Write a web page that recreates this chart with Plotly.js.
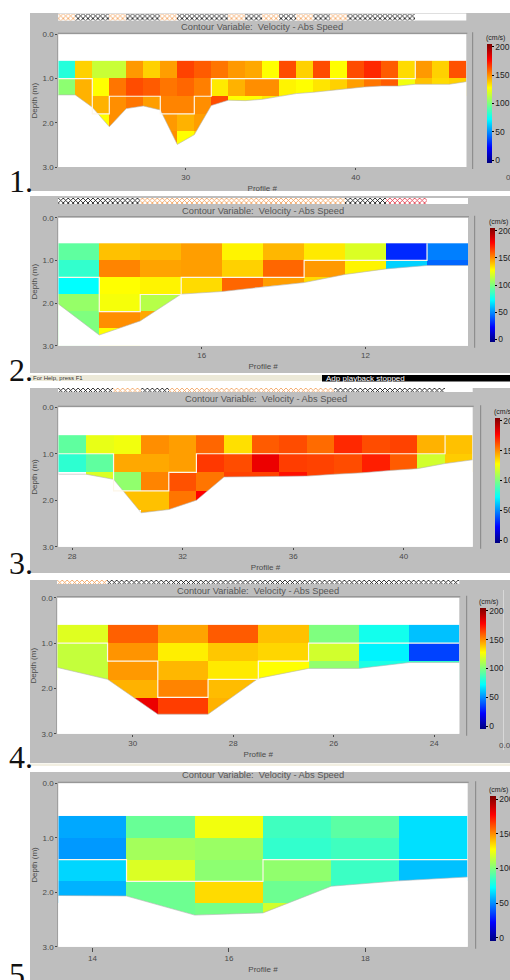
<!DOCTYPE html>
<html><head><meta charset="utf-8">
<script src="https://cdn.plot.ly/plotly-3.0.1.min.js"></script>
<style>html,body{margin:0;padding:0;background:#fff}#chart{width:510px;height:980px}</style>
</head><body><div id="chart"></div>
<script>
// ---------- data ----------
const depthEdges = [0.6, 1.0, 1.4, 1.8, 2.2, 2.6];
const depthEdges2 = [0.6, 1.0, 1.4, 1.8, 2.2, 2.6, 3.0];
const speedTicks = [0, 50, 100, 150, 200];
const depthTicks = [0, 1, 2, 3];

const profiles1 = [23,24,25,26,27,28,29,30,31,32,33,34,35,36,37,38,39,40,41,42,43,44,45,46];
const speed1 = [
 [80,137,116,116,148,137,147,165,160,155,148,145,128,163,137,163,128,163,170,160,135,148,137,162],
 [103,143,128,155,163,160,155,158,153,132,143,150,150,130,128,133,137,147,155,160,125,140,135,137],
 [null,143,143,150,155,147,152,152,150,163,128,128,132,null,null,null,null,null,null,null,null,null,null,null],
 [null,null,128,150,null,null,148,143,147,null,null,null,null,null,null,null,null,null,null,null,null,null,null,null],
 [null,null,null,null,null,null,150,128,135,null,null,null,null,null,null,null,null,null,null,null,null,null,null,null]];
const bed1 = [1.37,1.37,1.65,2.09,1.68,1.62,1.71,2.49,2.27,1.61,1.49,1.5,1.47,1.40,1.34,1.31,1.27,1.22,1.19,1.17,1.17,1.13,1.13,1.13,1.07];
const lineX1 = [22.5,24.5,24.5,25.5,25.5,28.5,28.5,30.5,30.5,31.5,31.5,43.5,43.5];
const lineY1 = [1,1,1.8,1.8,1.4,1.4,1.8,1.8,1.4,1.4,1,1,0.6];
const strip1 = ['o','b','b','o','b','b','o','b','b','b','o','b','o','b','o','b','o','b','b','b','b','','',''];

const profiles2 = [19,18,17,16,15,14,13,12,11,10];
const speed2 = [
 [93,140,142,147,130,142,132,120,30,47],
 [83,152,146,147,137,158,148,130,63,42],
 [72,128,130,135,158,147,135,null,null,null],
 [105,126,112,null,null,null,null,null,null,null],
 [100,150,145,null,null,null,null,null,null,null],
 [100,128,null,null,null,null,null,null,null,null]];
const bed2 = [2.02,2.75,2.42,1.79,1.73,1.62,1.52,1.33,1.2,1.12,1.12];
const lineX2 = [19.5,18.5,18.5,17.5,17.5,16.5,16.5,13.5,13.5,10.5,10.5];
const lineY2 = [1.4,1.4,2.2,2.2,1.8,1.8,1.4,1.4,1,1,0.6];
const strip2 = ['b','b','o','o','o','o','o','b','r',''];

const profiles3 = [28,29,30,31,32,33,34,35,36,37,38,39,40,41,42];
const speed3 = [
 [93,123,125,150,147,158,134,160,163,157,170,163,165,143,140],
 [82,93,145,145,147,167,163,182,166,165,163,172,160,118,138],
 [null,120,104,152,162,155,165,165,175,165,162,162,null,null,null],
 [null,null,140,140,155,178,null,null,null,null,null,null,null,null,null],
 [null,null,null,143,null,null,null,null,null,null,null,null,null,null,null]];
const bed3 = [1.44,1.44,1.55,2.27,2.2,2.0,1.5,1.49,1.48,1.48,1.44,1.41,1.36,1.32,1.21,1.13];
const lineX3 = [27.5,29.5,29.5,31.5,31.5,32.5,32.5,41.5,41.5];
const lineY3 = [1,1,1.8,1.8,1.4,1.4,1,1,0.6];
const strip3 = ['b','b','o','b','o','o','o','o','o','o','b','b','b','b',''];

const profiles4 = [31,30,29,28,27,26,25,24];
const speed4 = [
 [121,159,146,160,140,100,76,60],
 [115,149,131,139,136,118,70,35],
 [115,148,142,132,128,104,78,85],
 [null,143,152,141,null,null,null,null],
 [null,182,166,143,null,null,null,null]];
const bed4 = [1.54,1.8,2.57,2.57,1.78,1.56,1.56,1.43,1.43];
const lineX4 = [31.5,30.5,30.5,29.5,29.5,28.5,28.5,27.5,27.5,26.5,26.5,23.5];
const lineY4 = [1,1,1.4,1.4,2.2,2.2,1.8,1.8,1.4,1.4,1,1];
const strip4 = ['o','b','b','b','b','b','b','b'];

const profiles5 = [14,15,16,17,18,19];
const speed5 = [
 [55,95,125,86,92,66],
 [52,108,106,83,86,66],
 [64,120,103,104,85,60],
 [57,96,135,96,85,null],
 [null,96,98,118,null,null]];
const bed5 = [2.06,2.07,2.42,2.38,1.89,1.79,1.72];
const lineX5 = [13.5,14.5,14.5,16.5,16.5,19.5];
const lineY5 = [1.4,1.4,1.8,1.8,1.4,1.4];

const chartTitle = 'Contour Variable:  Velocity - Abs Speed';
const depthTitle = 'Depth (m)';
const profileTitle = 'Profile #';
const unitTitle = '(cm/s)';
const panelNumbers = ['1.','2.','3.','4.','5.'];
const profileTicks = [[30,40],[16,12],[28,32,36,40],[30,28,26,24],[14,16,18]];
const statusLeft = 'For Help, press F1';
const statusRight = 'Adp playback stopped';

// ---------- layout geometry (pixels) ----------
const W = 510, H = 980;
const geo = [
 {l:58.3,r:466.3,t:34.3,b:167,  grayT:13, grayB:191, st:13.5,sb:20.5,cl:487,ct:44, cb:163,cw:5,ttl:27, ttx:262,num:162,frame:472,tl:2,uy:38},
 {l:58.3,r:468,  t:217.7,b:345.7,grayT:196,grayB:373,st:198,sb:204,cl:490,ct:228,cb:342,cw:5,ttl:211,ttx:263,num:351,frame:474,tl:2,uy:222},
 {l:58.3,r:472.7,t:407.3,b:546.7,grayT:388,grayB:573,st:388,sb:392,cl:495,ct:418,cb:543,cw:5,ttl:399,ttx:266,num:544,frame:480,tl:2,uy:412},
 {l:57.3,r:459.3,t:597.7,b:733.7,grayT:580,grayB:763,st:580,sb:584,cl:480,ct:608,cb:729,cw:6,ttl:591,ttx:258,num:738,frame:466,tl:2,uy:602},
 {l:58.3,r:467.7,t:783.3,b:946.7,grayT:772,grayB:980,st:0,sb:0,cl:490,ct:796,cb:941,cw:6,ttl:775,ttx:263,num:955,frame:475,tl:4,uy:790}];

const speeds=[speed1,speed2,speed3,speed4,speed5];
const profs=[profiles1,profiles2,profiles3,profiles4,profiles5];
const beds=[bed1,bed2,bed3,bed4,bed5];
const lineXs=[lineX1,lineX2,lineX3,lineX4,lineX5];
const lineYs=[lineY1,lineY2,lineY3,lineY4,lineY5];
const strips=[strip1,strip2,strip3,strip4,null];

const scale=[[0,'#00007f'],[0.129,'#0000ff'],[0.367,'#00ffff'],[0.5,'#7fff7f'],[0.633,'#ffff00'],[0.871,'#ff0000'],[1,'#7f0000']];
const axisColor='#4a4a4a', FONT='"Liberation Sans", Arial, sans-serif';
const hatch={o:'#f09a50',b:'#000000',r:'#e03040','':'#ffffff'};

const px=(v)=>v/W, py=(v)=>1-v/H;
const traces=[];
const layout={width:W,height:H,margin:{l:0,r:0,t:0,b:0,autoexpand:false},paper_bgcolor:'#fff',plot_bgcolor:'#fff',
  showlegend:false,bargap:0,shapes:[],annotations:[],font:{family:FONT,size:8,color:axisColor}};
const rect=(x0,y0,x1,y1,fill)=>({type:'rect',xref:'paper',yref:'paper',x0:px(x0),x1:px(x1),y0:py(y0),y1:py(y1),fillcolor:fill,line:{width:0},layer:'below'});
const note=(x,y,text,o={})=>Object.assign({xref:'paper',yref:'paper',x:px(x),y:py(y),text,showarrow:false,xanchor:'center',yanchor:'middle',font:{family:FONT,size:9.3,color:'#555'},borderpad:0},o);

geo.forEach((g,i)=>{
  const n=i+1, sfx=n===1?'':n;
  const xa='x'+sfx, ya='y'+sfx, ca='coloraxis'+sfx;
  const p=profs[i], step=p[1]-p[0];
  const edges=p.map(v=>v-step/2).concat([p[p.length-1]+step/2]);
  const yEdges=speeds[i].length===6?depthEdges2:depthEdges;
  // panel chrome
  layout.shapes.push(rect(30,g.grayT,W,g.grayB,'#bebebe'));
  layout.shapes.push(rect(g.l,g.t,g.r,g.b,'#ffffff'));
  layout.shapes.push(rect(g.l-0.5,g.t-1.5,g.r+1,g.t-0.5,'#8a8a8a'));
  layout.shapes.push(rect(g.frame,g.t-2,g.frame+1.2,g.b+2,'#8e8e8e'));
  if(g.sb>0) layout.shapes.push(rect(g.l,g.st,g.r,g.sb,'#ffffff'));
  // axes
  layout['xaxis'+sfx]={domain:[px(g.l),px(g.r)],range:[edges[0],edges[edges.length-1]],anchor:ya,tickmode:'array',tickvals:profileTicks[i],
    ticks:'outside',ticklen:g.tl,tickcolor:axisColor,tickfont:{family:FONT,size:8,color:axisColor},showgrid:false,zeroline:false,showline:false,
    title:{text:profileTitle,font:{family:FONT,size:8,color:axisColor},standoff:4}};
  layout['yaxis'+sfx]={domain:[py(g.b),py(g.t)],range:[3,0],anchor:xa,tickmode:'array',tickvals:depthTicks,tickformat:'.1f',
    ticks:'outside',ticklen:2,tickcolor:axisColor,tickfont:{family:FONT,size:8,color:axisColor},showgrid:false,zeroline:false,
    showline:true,linecolor:'#a0a0a0',linewidth:1,
    title:{text:depthTitle,font:{family:FONT,size:8,color:axisColor},standoff:3}};
  layout[ca]={cmin:-5,cmax:205,colorscale:scale,colorbar:{x:px(g.cl),xanchor:'left',y:py(g.ct),yanchor:'top',len:g.cb-g.ct,lenmode:'pixels',
    thickness:g.cw,thicknessmode:'pixels',xpad:0,ypad:0,outlinewidth:0,tickmode:'array',tickvals:speedTicks,ticks:'outside',ticklen:2,tickcolor:'#000',
    tickfont:{family:FONT,size:8.5,color:'#222'}}};
  // cells
  traces.push({type:'heatmap',x:p,y:yEdges,z:speeds[i],xaxis:xa,yaxis:ya,coloraxis:ca,zsmooth:false,hoverongaps:false});
  // below-bed mask, overshooting the plot sides so no cell colour shows at the clip edge
  const last=edges[edges.length-1], nb=beds[i].length;
  const maskX=[edges[0]-step].concat(edges,[last+step,last+step,edges[0]-step,edges[0]-step]);
  const maskY=[beds[i][0]].concat(beds[i],[beds[i][nb-1],3.2,3.2,beds[i][0]]);
  traces.push({type:'scatter',mode:'lines',xaxis:xa,yaxis:ya,x:maskX,y:maskY,fill:'toself',fillcolor:'#fff',line:{width:0},hoverinfo:'skip'});
  traces.push({type:'scatter',mode:'lines',xaxis:xa,yaxis:ya,x:edges,y:beds[i],line:{color:'#b5b5b5',width:0.6},hoverinfo:'skip'});
  // white boundary
  traces.push({type:'scatter',mode:'lines',xaxis:xa,yaxis:ya,x:lineXs[i],y:lineYs[i],line:{color:'#fdf6e8',width:1.2},hoverinfo:'skip',cliponaxis:false});
  // status strip
  if(strips[i]){
    const sa='yaxis'+(n+5);
    layout[sa]={domain:[py(g.sb),py(g.st)],range:[0,1],visible:false,anchor:xa,fixedrange:true};
    traces.push({type:'bar',xaxis:xa,yaxis:'y'+(n+5),x:p,y:strips[i].map(c=>c?1:0),width:Math.abs(step),
      marker:{color:'#ffffff',line:{width:0},pattern:{shape:'x',size:3.5,solidity:0.4,fgcolor:strips[i].map(c=>hatch[c]),bgcolor:'#ffffff'}},hoverinfo:'skip'});
  }
  // texts
  layout.annotations.push(note(g.ttx,g.ttl,chartTitle));
  layout.annotations.push(note(g.cl-2,g.uy,unitTitle,{xanchor:'left',font:{family:FONT,size:7,color:'#222'}}));
  layout.annotations.push(note(8,g.num,panelNumbers[i],{xanchor:'left',yanchor:'top',font:{family:'"Liberation Serif", serif',size:32,color:'#111'}}));
});
// status bar between panels 2 and 3
layout.shapes.push(rect(30,375,322,381,'#ece9d8'));
layout.shapes.push(rect(322,375,W,381.5,'#000000'));
layout.shapes.push(rect(30,763.5,W,766,'#f2efe2'));
layout.shapes.push(rect(503,590,504,750,'#d8d8d8'));
layout.annotations.push(note(32,378,statusLeft,{xanchor:'left',font:{family:FONT,size:6,color:'#333'}}));
layout.annotations.push(note(325,378.5,statusRight,{xanchor:'left',font:{family:FONT,size:8,color:'#fff'}}));
layout.annotations.push(note(505,745,'0.0',{xanchor:'center',font:{family:FONT,size:8,color:axisColor}}));
layout.annotations.push(note(508,178,'0',{xanchor:'center',font:{family:FONT,size:8,color:axisColor}}));

Plotly.newPlot('chart',traces,layout,{displayModeBar:false,responsive:false});
</script></body></html>
